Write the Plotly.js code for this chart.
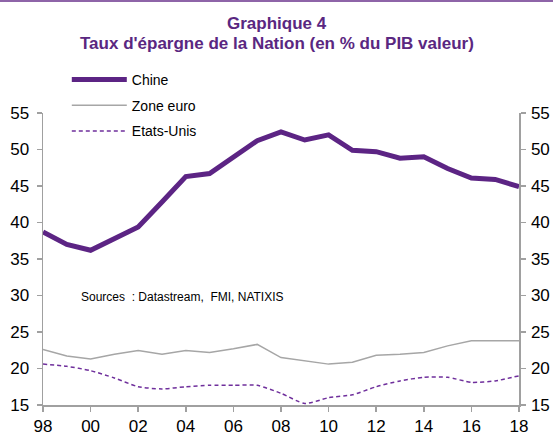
<!DOCTYPE html>
<html>
<head>
<meta charset="utf-8">
<script src="https://cdn.plot.ly/plotly-3.0.1.min.js"></script>
<style>
html,body{margin:0;padding:0;background:#fff;}
#chart{width:553px;height:430px;border-top:2px solid #8e64a8;}
</style>
</head>
<body>
<div id="chart"></div>
<script>
var years = [1998,1999,2000,2001,2002,2003,2004,2005,2006,2007,2008,2009,2010,2011,2012,2013,2014,2015,2016,2017,2018];
var chine = [38.7,37.0,36.2,37.8,39.4,42.8,46.3,46.7,48.9,51.2,52.4,51.3,52.0,49.9,49.7,48.8,49.0,47.4,46.1,45.9,44.9];
var zoneEuro = [22.6,21.7,21.3,21.95,22.45,21.95,22.45,22.2,22.7,23.3,21.5,21.1,20.6,20.85,21.8,21.95,22.2,23.1,23.8,23.8,23.8];
var etatsUnis = [20.6,20.3,19.7,18.7,17.5,17.2,17.5,17.7,17.7,17.7,16.6,15.2,16.0,16.4,17.5,18.3,18.8,18.8,18.1,18.3,19.0];
var xTickVals = [1998,2000,2002,2004,2006,2008,2010,2012,2014,2016,2018];
var xTickText = ['98','00','02','04','06','08','10','12','14','16','18'];
var yTickVals = [15,20,25,30,35,40,45,50,55];
var seriesNames = ['Chine','Zone euro','Etats-Unis'];
var titleLine1 = 'Graphique 4';
var titleLine2 = 'Taux d\'épargne de la Nation (en % du PIB valeur)';
var sourceText = 'Sources  : Datastream,  FMI, NATIXIS';

var traces = [
  {x: years, y: chine, name: seriesNames[0], type: 'scatter', mode: 'lines',
   legendgroup: 'a', line: {color: '#5c2484', width: 5}, yaxis: 'y'},
  {x: years, y: zoneEuro, name: seriesNames[1], type: 'scatter', mode: 'lines',
   legendgroup: 'b', line: {color: '#a6a6a6', width: 1.5}, yaxis: 'y'},
  {x: years, y: etatsUnis, name: seriesNames[2], type: 'scatter', mode: 'lines',
   legendgroup: 'c', line: {color: '#6f2f9c', width: 1.5, dash: '4px,3px', shape: 'spline', smoothing: 0.6}, yaxis: 'y2'}
];

var font = 'Liberation Sans, Arial, sans-serif';
var titleFont = {family: font, size: 17, color: '#5a2781', weight: 'bold'};
var axisCommon = {
  range: [15, 55], tickvals: yTickVals, showgrid: false, zeroline: false,
  showline: true, linecolor: '#a0a0a0', linewidth: 1.5,
  ticks: 'outside', ticklen: 5, tickcolor: '#a0a0a0', tickwidth: 1.5,
  tickfont: {family: font, size: 17, color: '#000'}, fixedrange: true
};

var layout = {
  width: 553, height: 430,
  margin: {l: 43, r: 34, t: 110.5, b: 27},
  paper_bgcolor: '#fff', plot_bgcolor: '#fff',
  font: {family: font, color: '#000'},
  showlegend: true,
  legend: {x: 0.05, xanchor: 'left', y: 1.168, yanchor: 'top', traceorder: 'grouped',
           tracegroupgap: 4.5, itemwidth: 55, bgcolor: 'rgba(0,0,0,0)',
           font: {family: font, size: 14, color: '#000'}},
  xaxis: {range: [1998, 2018], tickvals: xTickVals, ticktext: xTickText,
          showgrid: false, zeroline: false, showline: true, linecolor: '#a0a0a0', linewidth: 1.5,
          ticks: 'outside', ticklen: 5, tickcolor: '#a0a0a0', tickwidth: 1.5,
          tickfont: {family: font, size: 17, color: '#000'}, fixedrange: true},
  yaxis: Object.assign({}, axisCommon, {side: 'left', ticklabelstandoff: 4}),
  yaxis2: Object.assign({}, axisCommon, {side: 'right', overlaying: 'y', ticklabelstandoff: 2}),
  annotations: [
    {text: titleLine1, xref: 'paper', yref: 'paper', x: 0.491, y: 1.308,
     xanchor: 'center', yanchor: 'middle', showarrow: false, font: titleFont, borderpad: 0},
    {text: titleLine2, xref: 'paper', yref: 'paper', x: 0.491, y: 1.238,
     xanchor: 'center', yanchor: 'middle', showarrow: false, font: titleFont, borderpad: 0},
    {text: sourceText, xref: 'paper', yref: 'paper', x: 0.075, y: 0.37,
     xanchor: 'left', yanchor: 'middle', showarrow: false,
     font: {family: font, size: 12, color: '#000'}}
  ]
};

Plotly.newPlot('chart', traces, layout, {staticPlot: true, displayModeBar: false});
</script>
</body>
</html>
